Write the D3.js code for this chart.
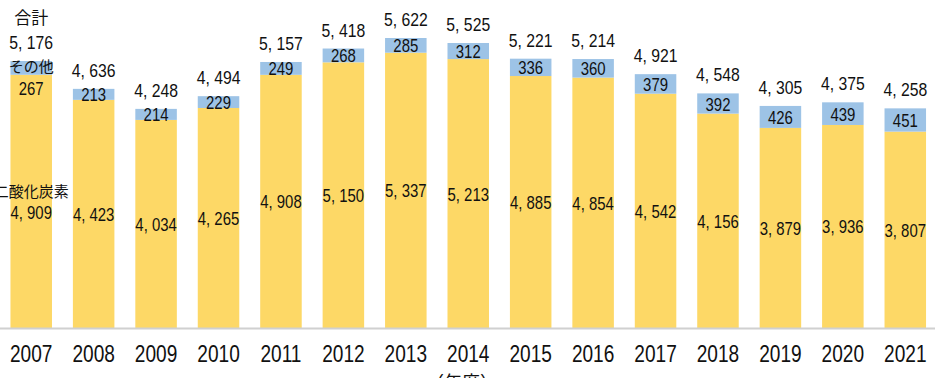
<html lang="ja">
<head>
<meta charset="UTF-8">
<title>CO2 stacked bars</title>
<script src="https://cdn.jsdelivr.net/npm/d3@7"></script>
<style>
    body { margin: 0; background: #fff; }
    .num { font-family: "Liberation Sans", Arial, sans-serif; fill: #111; }
    .jp { font-family: "Noto Sans CJK JP", sans-serif; fill: #111; }
</style>
</head>
<body>
<svg id="chart" width="935" height="378"></svg>
<script>
// data
let years = ["2007","2008","2009","2010","2011","2012","2013","2014","2015","2016","2017","2018","2019","2020","2021"]
let co2 = [4909,4423,4034,4265,4908,5150,5337,5213,4885,4854,4542,4156,3879,3936,3807]
let other = [267,213,214,229,249,268,285,312,336,360,379,392,426,439,451]
let total = [5176,4636,4248,4494,5157,5418,5622,5525,5221,5214,4921,4548,4305,4375,4258]

let rows = years.map((y, i) => ({year: y, co2: co2[i], other: other[i], total: total[i]}))

let svg = d3.select("#chart")
let base = 328
let narrow = 0.83

let x = d3.scaleBand().domain(years).range([0, 936.5]).paddingInner(0.335).paddingOuter(0.1675)
let y = d3.scaleLinear().domain([0, 6000]).range([base, base - 309.5])

let fmt = v => d3.format(",")(v).replace(",", ", ")
let cx = d => x(d.year) + x.bandwidth() / 2

// narrow number label, drawn at (px, py)
function num(data, px, py, size, txt) {
    svg.selectAll(null).data(data).enter().append("text").attr("class", "num")
        .attr("text-anchor", "middle")
        .attr("transform", d => "translate(" + px(d) + "," + py(d) + ") scale(" + narrow + ",1)")
        .style("font-size", size + "px").text(txt)
}

// bars
svg.selectAll(".co2").data(rows).enter().append("rect")
    .attr("x", d => x(d.year)).attr("width", x.bandwidth())
    .attr("y", d => y(d.co2)).attr("height", d => y(0) - y(d.co2))
    .attr("fill", "#fdd866")
svg.selectAll(".oth").data(rows).enter().append("rect")
    .attr("x", d => x(d.year)).attr("width", x.bandwidth())
    .attr("y", d => y(d.co2 + d.other)).attr("height", d => y(d.co2) - y(d.co2 + d.other))
    .attr("fill", "#9dc3e6")

// axis line
svg.append("line").attr("x1", 0).attr("x2", 935).attr("y1", base + 0.5).attr("y2", base + 0.5)
    .attr("stroke", "#d0d0d0").attr("stroke-width", 2)

let rest = rows.slice(1)
let first = rows[0]

// year labels
num(rows, cx, d => 362, 23, d => d.year)
// totals
num(rest, cx, d => y(d.total) - 12, 19, d => fmt(d.total))
// other values
num(rest, cx, d => (y(d.co2) + y(d.co2 + d.other)) / 2 + 7, 18, d => d.other)
// co2 values
num(rest, cx, d => (y(0) + y(d.co2)) / 2 + 7, 18, d => fmt(d.co2))

// first bar carries the series names
let c0 = cx(first)
svg.append("text").attr("class", "jp").attr("x", c0).attr("y", 24).attr("text-anchor", "middle")
    .style("font-size", "17px").text("合計")
num([first], cx, d => y(d.total) - 12, 19, d => fmt(d.total))
svg.append("text").attr("class", "jp").attr("x", c0).attr("y", y(first.total) + 11).attr("text-anchor", "middle")
    .style("font-size", "15px").text("その他")
num([first], cx, d => y(d.co2) + 20, 18, d => d.other)
svg.append("text").attr("class", "jp").attr("x", c0).attr("y", (y(0) + y(first.co2)) / 2 - 4).attr("text-anchor", "middle")
    .style("font-size", "15px").text("二酸化炭素")
num([first], cx, d => (y(0) + y(d.co2)) / 2 + 18, 18, d => fmt(d.co2))

// unit label, cut by the bottom edge as in the source
svg.append("text").attr("class", "jp").attr("x", 462).attr("y", 389).attr("text-anchor", "middle")
    .style("font-size", "18px").text("（年度）")
</script>
</body>
</html>
